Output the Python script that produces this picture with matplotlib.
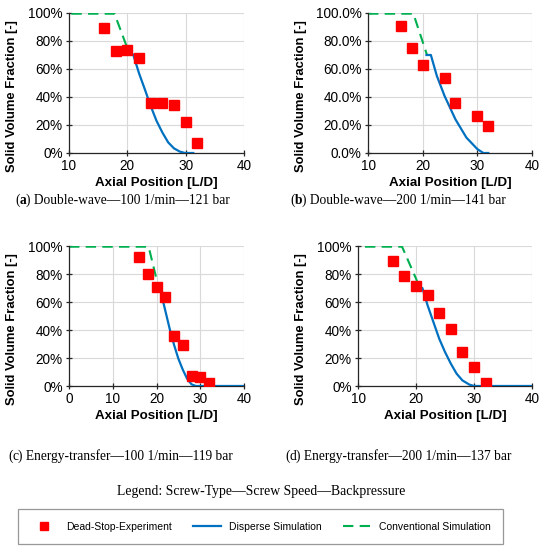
import matplotlib.pyplot as plt
from matplotlib.ticker import PercentFormatter, MultipleLocator
from matplotlib.lines import Line2D

# (a) Double-wave 100 1/min
exp_x_a = [16, 18, 20, 22, 24, 26, 28, 30, 32]
exp_y_a = [89, 73, 73.5, 68, 36, 36, 34.6, 22, 7.5]
disp_x_a = [20.1, 21.0, 22, 23, 24, 25, 26, 27, 28, 29, 29.9, 31.3]
disp_y_a = [70.4, 70.4, 57, 45.5, 33.6, 23, 14.7, 7.6, 3.3, 1, 0, 0]
conv_x_a = [10.4, 17.8, 20.3]
conv_y_a = [99.5, 99.5, 71.5]

# (b) Double-wave 200 1/min
exp_x_b = [16, 18, 20, 24, 26, 30, 32]
exp_y_b = [91, 75, 63, 53.3, 36, 26.5, 19.4]
disp_x_b = [20.7, 21.5, 22.6, 24, 26, 28, 30, 31.1, 32]
disp_y_b = [70, 70, 55, 40.8, 24, 11, 2.8, 0, 0]
conv_x_b = [10, 18.3, 20.8]
conv_y_b = [99.5, 99.5, 70]

# (c) Energy-transfer 100 1/min
exp_x_c = [16, 18, 20, 22, 24, 26, 28, 30, 32]
exp_y_c = [92, 80, 70.7, 63.8, 35.5, 29.3, 7.1, 6.4, 1.9]
disp_x_c = [20.8, 22, 23, 24, 25, 26, 27, 28, 29, 40]
disp_y_c = [69.5, 54, 41, 29.5, 19.5, 11.7, 5.2, 1.2, 0, 0]
conv_x_c = [0, 18.2, 20.5]
conv_y_c = [99.5, 99.5, 70]

# (d) Energy-transfer 200 1/min
exp_x_d = [16, 18, 20, 22, 24, 26, 28, 30, 32]
exp_y_d = [89.5, 78.6, 71.7, 65.2, 52.4, 41, 24.5, 13.3, 2.1]
disp_x_d = [20.7, 21.1, 22, 23, 24, 25, 26, 27, 28, 29.2, 30, 40]
disp_y_d = [70, 70, 57.6, 45.7, 33.8, 24.3, 16, 8.8, 4, 1, 0, 0]
conv_x_d = [11.2, 17.6, 20.6]
conv_y_d = [99.5, 99.5, 71]

panels = [
    (exp_x_a, exp_y_a, disp_x_a, disp_y_a, conv_x_a, conv_y_a, 10, 0),
    (exp_x_b, exp_y_b, disp_x_b, disp_y_b, conv_x_b, conv_y_b, 10, 1),
    (exp_x_c, exp_y_c, disp_x_c, disp_y_c, conv_x_c, conv_y_c, 0, 0),
    (exp_x_d, exp_y_d, disp_x_d, disp_y_d, conv_x_d, conv_y_d, 10, 0),
]

captions = [
    ("a", " Double-wave\u2014100 1/min\u2014121 bar", True),
    ("b", " Double-wave\u2014200 1/min\u2014141 bar", True),
    ("c", " Energy-transfer\u2014100 1/min\u2014119 bar", False),
    ("d", " Energy-transfer\u2014200 1/min\u2014137 bar", False),
]

RED = '#ff0000'
BLUE = '#0070c0'
GREEN = '#00b050'
SANS = 'Liberation Sans'
SERIF = 'Liberation Serif'

W, H = 543, 550
fig = plt.figure(figsize=(W / 100, H / 100), dpi=100)

# axes boxes in pixels: left, right, top, bottom, y-label right edge
boxes = [(69, 244, 13, 153, 18), (368, 532, 13, 153, 307),
         (69, 244, 246, 386, 18), (358, 532, 246, 386, 307)]

for (ex, ey, dx, dy, cx, cy, xmin, dec), (l, r, t, b, lx) in zip(panels, boxes):
    ax = fig.add_axes([l / W, 1 - b / H, (r - l) / W, (b - t) / H])
    ax.plot(cx, cy, color=GREEN, lw=1.5, dashes=(5, 3), zorder=2)
    ax.plot(dx, dy, color=BLUE, lw=1.6, zorder=3)
    ax.plot(ex, ey, 's', color=RED, ms=6.5, zorder=4)
    ax.set_xlim(xmin, 40)
    ax.set_ylim(0, 100)
    ax.xaxis.set_major_locator(MultipleLocator(10))
    ax.yaxis.set_major_locator(MultipleLocator(20))
    ax.yaxis.set_major_formatter(PercentFormatter(100, decimals=dec))
    ax.grid(True, color='#d9d9d9', lw=0.8)
    ax.set_axisbelow(True)
    for s in ['top', 'right']:
        ax.spines[s].set_visible(False)
    for s in ['left', 'bottom']:
        ax.spines[s].set_color('#262626')
        ax.spines[s].set_linewidth(0.9)
    ax.tick_params(direction='inout', length=5, width=0.9, color='#262626',
                   labelsize=9.8, pad=2)
    for lab in ax.get_xticklabels() + ax.get_yticklabels():
        lab.set_fontfamily(SANS)
    ax.set_xlabel('Axial Position [L/D]', fontfamily=SANS, fontweight='bold',
                  fontsize=9.6, labelpad=3)
    ax.set_ylabel('Solid Volume Fraction [-]', fontfamily=SANS,
                  fontweight='bold', fontsize=9.35)
    ax.yaxis.set_label_coords((lx - l) / (r - l), 0.41)

# captions, with a bold letter for (a) and (b)
cap_pos = [(15, 200), (290, 200), (8, 456), (285, 456)]
for (letter, rest, bold), (px, py) in zip(captions, cap_pos):
    t1 = fig.text(px / W, 1 - py / H, "(", fontfamily=SERIF, fontsize=9.75,
                  va='center')
    t2 = plt.annotate(letter, xy=(1, 0), xycoords=t1, va='bottom',
                      fontfamily=SERIF, fontsize=9.75,
                      fontweight='bold' if bold else 'normal')
    plt.annotate(")" + rest, xy=(1, 0), xycoords=t2, va='bottom',
                 fontfamily=SERIF, fontsize=9.75)

fig.text(261 / W, 1 - 492 / H, "Legend: Screw-Type\u2014Screw Speed\u2014Backpressure",
         fontfamily=SERIF, fontsize=9.9, ha='center', va='center')

handles = [
    Line2D([], [], ls='none', marker='s', color=RED, ms=6),
    Line2D([], [], color=BLUE, lw=1.6),
    Line2D([], [], color=GREEN, lw=1.5, dashes=(5, 3)),
]
labels = ['Dead-Stop-Experiment', 'Disperse Simulation', 'Conventional Simulation']
leg = fig.legend(handles, labels, ncol=3, loc='lower left',
                 bbox_to_anchor=(18 / W, 1 - 544 / H, 485 / W, 42 / H),
                 mode='expand', borderaxespad=0, fancybox=False,
                 edgecolor='#7f7f7f', prop={'family': SANS, 'size': 7.5},
                 handlelength=2.6, columnspacing=1.5, borderpad=1.2)
leg.get_frame().set_linewidth(0.9)

fig.savefig('out.png', dpi=100)
